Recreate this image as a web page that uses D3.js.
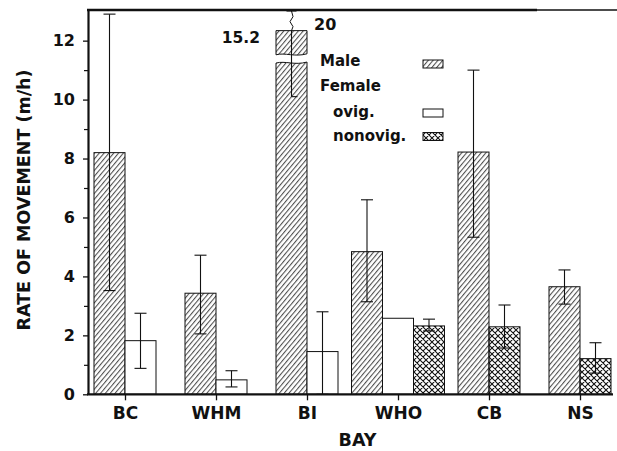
<!DOCTYPE html>
<html>
<head>
<meta charset="utf-8">
<script src="https://cdn.jsdelivr.net/npm/d3@7"></script>
<style>
  html, body { margin: 0; padding: 0; background: #fff; }
  svg { display: block; }
  text { font-family: "DejaVu Sans", "Liberation Sans", sans-serif; font-weight: bold; fill: #111; }
</style>
</head>
<body>
<script>
// ---- data ----
const bays = ["BC", "WHM", "BI", "WHO", "CB", "NS"];
const maleMean   = [8.2, 3.43, 15.2, 4.84, 8.22, 3.65];
const maleLow    = [3.52, 2.05, 10.1, 3.14, 5.33, 3.06];
const maleHigh   = [12.9, 4.72, 20, 6.6, 11.0, 4.22];
const ovigMean   = [1.82, 0.49, 1.45, 2.58, null, null];
const ovigLow    = [0.88, 0.25, 0.0, null, null, null];
const ovigHigh   = [2.75, 0.8, 2.8, null, null, null];
const nonovigMean = [null, null, null, 2.32, 2.29, 1.21];
const nonovigLow  = [null, null, null, 2.15, 1.57, 0.72];
const nonovigHigh = [null, null, null, 2.55, 3.03, 1.75];
const yMajorTicks = [0, 2, 4, 6, 8, 10, 12];
const yMinorTicks = [1, 3, 5, 7, 9, 11];
const legendLabels = ["Male", "Female", "ovig.", "nonovig."];
const yAxisTitle = "RATE OF MOVEMENT (m/h)";
const xAxisTitle = "BAY";

// axis break drawing for values beyond the axis
const yMax = 13.04;
const brokenBarTop = 12.34;
const breakFrom = 11.24;
const breakTo = 11.52;

const W = 617, H = 451;
const svg = d3.select("body").append("svg").attr("width", W).attr("height", H);

const defs = svg.append("defs");
const hatch = defs.append("pattern").attr("id", "hatch")
  .attr("patternUnits", "userSpaceOnUse").attr("width", 3.7).attr("height", 10)
  .attr("patternTransform", "rotate(40)");
hatch.append("line").attr("x1", 0.6).attr("y1", 0).attr("x2", 0.6).attr("y2", 10)
  .attr("stroke", "#222").attr("stroke-width", 0.9);
const cross = defs.append("pattern").attr("id", "cross")
  .attr("patternUnits", "userSpaceOnUse").attr("width", 6).attr("height", 6);
cross.append("path").attr("d", "M0,0L6,6M6,0L0,6M-1,5L1,7M5,-1L7,1M-1,1L1,-1M5,7L7,5")
  .attr("stroke", "#111").attr("stroke-width", 1.1).attr("fill", "none");

const x = d3.scalePoint().domain(bays).range([125, 580]);
const y = d3.scaleLinear().domain([0, yMax]).range([394.3, 10]);
const barW = 31;
const axisLeftX = 88;

const series = [
  { key: "male", mean: maleMean, lo: maleLow, hi: maleHigh, fill: "url(#hatch)" },
  { key: "ovig", mean: ovigMean, lo: ovigLow, hi: ovigHigh, fill: "#fff" },
  { key: "nonovig", mean: nonovigMean, lo: nonovigLow, hi: nonovigHigh, fill: "url(#cross)" }
];

// build bars
const bars = [];
bays.forEach((b, gi) => {
  const present = series.filter(s => s.mean[gi] != null);
  present.forEach((s, i) => {
    const x0 = x(b) + (i - present.length / 2) * barW;
    bars.push({ bay: b, gi, s, x0, v: s.mean[gi], lo: s.lo[gi], hi: s.hi[gi] });
  });
});

const g = svg.append("g");

bars.forEach(d => {
  const x0 = d.x0, x1 = d.x0 + barW;
  if (d.v <= yMax) {
    g.append("rect").attr("x", x0).attr("y", y(d.v)).attr("width", barW)
      .attr("height", y(0) - y(d.v)).attr("fill", d.s.fill)
      .attr("stroke", "#111").attr("stroke-width", 1);
  } else {
    // broken bar: lower part with wavy top, top block with wavy bottom
    const yb = y(breakFrom), yt = y(breakTo), ytop = y(brokenBarTop);
    const wave = (ya) => `C${x0 + barW * 0.3},${ya - 2.5} ${x0 + barW * 0.6},${ya + 2.5} ${x1},${ya - 1}`;
    g.append("path")
      .attr("d", `M${x0},${y(0)}L${x0},${yb}${wave(yb)}L${x1},${y(0)}Z`)
      .attr("fill", d.s.fill).attr("stroke", "#111").attr("stroke-width", 1);
    g.append("path")
      .attr("d", `M${x0},${ytop}L${x1},${ytop}L${x1},${yt - 1}C${x0 + barW * 0.6},${yt + 2.5} ${x0 + barW * 0.3},${yt - 2.5} ${x0},${yt}Z`)
      .attr("fill", d.s.fill).attr("stroke", "#111").attr("stroke-width", 1);
    g.append("text").attr("x", x0 - 16).attr("y", ytop + 12.5)
      .attr("text-anchor", "end").style("font-size", "15.5px").text(d3.format(".1f")(d.v));
    g.append("text").attr("x", x1 + 7).attr("y", y(yMax) + 20)
      .attr("text-anchor", "start").style("font-size", "16px").text(d3.format("d")(d.hi));
  }
});

// error bars
bars.forEach(d => {
  if (d.lo == null || d.hi == null) return;
  const cx = d.x0 + barW / 2;
  const cap = 6;
  if (d.hi <= yMax) {
    g.append("line").attr("x1", cx).attr("x2", cx).attr("y1", y(d.lo)).attr("y2", y(d.hi))
      .attr("stroke", "#111").attr("stroke-width", 1.1);
    [d.lo, d.hi].forEach(v => g.append("line").attr("x1", cx - cap).attr("x2", cx + cap)
      .attr("y1", y(v)).attr("y2", y(v)).attr("stroke", "#111").attr("stroke-width", 1.1));
  } else {
    const ytop = y(brokenBarTop);
    const yEnd = y(yMax) + 1;
    g.append("line").attr("x1", cx).attr("x2", cx).attr("y1", y(d.lo)).attr("y2", ytop)
      .attr("stroke", "#111").attr("stroke-width", 1.1);
    const zig = `M${cx},${ytop}L${cx + 1.5},${ytop - 4}L${cx - 1.5},${ytop - 9}L${cx + 1.5},${ytop - 14}L${cx},${yEnd}`;
    g.append("path").attr("d", zig).attr("fill", "none").attr("stroke", "#111").attr("stroke-width", 1);
    g.append("line").attr("x1", cx - 5).attr("x2", cx + 5).attr("y1", yEnd).attr("y2", yEnd)
      .attr("stroke", "#111").attr("stroke-width", 1.1);
    g.append("line").attr("x1", cx).attr("x2", cx + 6).attr("y1", y(d.lo)).attr("y2", y(d.lo))
      .attr("stroke", "#111").attr("stroke-width", 1.1);
  }
});

// y axis
const yAxis = svg.append("g").attr("transform", `translate(${axisLeftX},0)`)
  .call(d3.axisLeft(y).tickValues(yMajorTicks).tickSize(5).tickSizeOuter(0).tickPadding(8).tickFormat(d3.format("d")));
yAxis.select(".domain").attr("stroke", "#111").attr("stroke-width", 2.2);
yAxis.selectAll(".tick line").attr("stroke", "#111").attr("stroke-width", 1.3);
yAxis.selectAll(".tick text").style("font-size", "16px").style("font-family", "DejaVu Sans").style("font-weight", "bold").attr("fill", "#111");
const yMinor = svg.append("g").attr("transform", `translate(${axisLeftX},0)`)
  .call(d3.axisLeft(y).tickValues(yMinorTicks).tickSize(4).tickSizeOuter(0).tickFormat(""));
yMinor.select(".domain").remove();
yMinor.selectAll(".tick line").attr("stroke", "#111").attr("stroke-width", 1.2);

// x axis
const xAxis = svg.append("g").attr("transform", `translate(0,${y(0)})`)
  .call(d3.axisBottom(x).tickSize(6).tickSizeOuter(0).tickPadding(7));
xAxis.select(".domain").remove();
xAxis.selectAll(".tick line").attr("stroke", "#111").attr("stroke-width", 1.3);
xAxis.selectAll(".tick text").style("font-size", "17px").style("font-family", "DejaVu Sans").style("font-weight", "bold").attr("fill", "#111");
svg.append("line").attr("x1", axisLeftX - 1).attr("x2", 613).attr("y1", y(0)).attr("y2", y(0))
  .attr("stroke", "#111").attr("stroke-width", 2.2);

// top frame line
svg.append("line").attr("x1", axisLeftX - 1).attr("x2", 537).attr("y1", y(yMax)).attr("y2", y(yMax))
  .attr("stroke", "#111").attr("stroke-width", 2.4);
svg.append("line").attr("x1", 537).attr("x2", 617).attr("y1", y(yMax)).attr("y2", y(yMax))
  .attr("stroke", "#111").attr("stroke-width", 1.3);

// axis titles
svg.append("text").attr("transform", "translate(30,200) rotate(-90)")
  .attr("text-anchor", "middle").style("font-size", "17.5px").text(yAxisTitle);
svg.append("text").attr("x", 357.5).attr("y", 445.5)
  .attr("text-anchor", "middle").style("font-size", "17.5px").text(xAxisTitle);

// legend
const lg = svg.append("g");
const legendRows = [
  { label: legendLabels[0], tx: 320, by: 66, fill: "url(#hatch)", sy: 60 },
  { label: legendLabels[1], tx: 320, by: 91, fill: null },
  { label: legendLabels[2], tx: 333, by: 117, fill: "#fff", sy: 109 },
  { label: legendLabels[3], tx: 333, by: 141, fill: "url(#cross)", sy: 132.5 }
];
legendRows.forEach(r => {
  lg.append("text").attr("x", r.tx).attr("y", r.by).style("font-size", "15px").text(r.label);
  if (r.fill) {
    lg.append("rect").attr("x", 423).attr("y", r.sy).attr("width", 20).attr("height", 8)
      .attr("fill", r.fill).attr("stroke", "#111").attr("stroke-width", 1);
  }
});
</script>
</body>
</html>
